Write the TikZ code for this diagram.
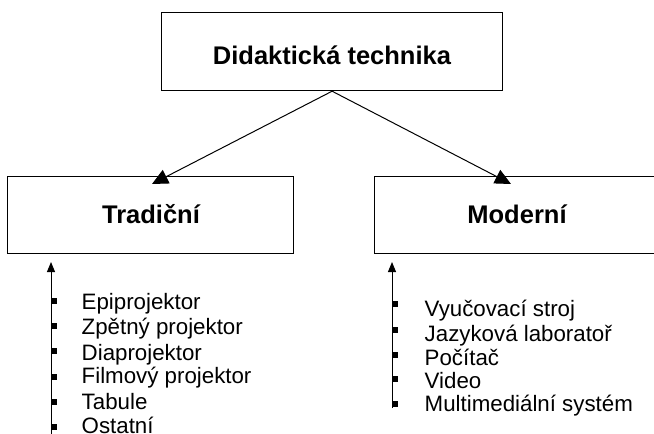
\documentclass[tikz,border=0pt]{standalone}
\usepackage{fontspec}
\setmainfont{Liberation Sans}
\usetikzlibrary{arrows.meta}
\begin{document}
\begin{tikzpicture}[x=1pt,y=-1pt,
  box/.style={draw, line width=1.2pt, inner sep=0pt, anchor=north west},
  head/.style={font=\fontsize{25.5}{30}\selectfont\bfseries, anchor=base, inner sep=0pt},
  item/.style={font=\fontsize{22.3}{26}\selectfont, anchor=base west, inner sep=0pt},
  bullet/.style={fill, minimum width=6.5pt, minimum height=6.5pt, inner sep=0pt, anchor=west},
  link/.style={line width=1pt, -{Triangle[length=16pt,width=15pt]}},
  rise/.style={line width=1pt, -{Triangle[length=10pt,width=8pt]}}]
\clip (0,0) rectangle (654,434);

% boxes
\node[box, minimum width=341pt, minimum height=78pt] (top) at (161,12) {};
\node[box, minimum width=286pt, minimum height=77pt] (trad) at (7,176) {};
\node[box, minimum width=290pt, minimum height=77pt] (mod) at (374,176) {};

% box titles
\node[head] (ttop) at (332,64) {Didaktická technika};
\node[head] (ttrad) at (151,223.6) {Tradiční};
\node[head] (tmod) at (517,223.6) {Moderní};

% branches from the top box
\coordinate (tl) at (152,184);
\coordinate (tr) at (511,184);
\draw[link] (top.south) -- (tl);
\draw[link] (top.south) -- (tr);

% rising lines with bullets
\coordinate (lb) at (51,440);
\coordinate (lt) at (51,262);
\coordinate (rb) at (392,408);
\coordinate (rt) at (392,262);
\draw[rise] (lb) -- (lt);
\draw[rise] (rb) -- (rt);

\foreach \y [count=\i] in {301,326,351,377,402,427}
  \node[bullet] (bl\i) at (50.5,\y) {};
\foreach \y [count=\i] in {304,330,355,379,404}
  \node[bullet] (br\i) at (391.5,\y) {};

% items, traditional
\node[item] (l1) at (81.5,309.6) {Epiprojektor};
\node[item] (l2) at (81.5,334.6) {Zpětný projektor};
\node[item] (l3) at (81.5,360.4) {Diaprojektor};
\node[item] (l4) at (81.5,383.7) {Filmový projektor};
\node[item] (l5) at (81.5,409.4) {Tabule};
\node[item] (l6) at (81.5,433.2) {Ostatní};

% items, modern
\node[item] (r1) at (424.5,316.9) {Vyučovací stroj};
\node[item] (r2) at (424.5,341.2) {Jazyková laboratoř};
\node[item] (r3) at (424.5,365.4) {Počítač};
\node[item] (r4) at (424.5,388.7) {Video};
\node[item] (r5) at (424.5,411.9) {Multimediální systém};
\end{tikzpicture}
\end{document}
